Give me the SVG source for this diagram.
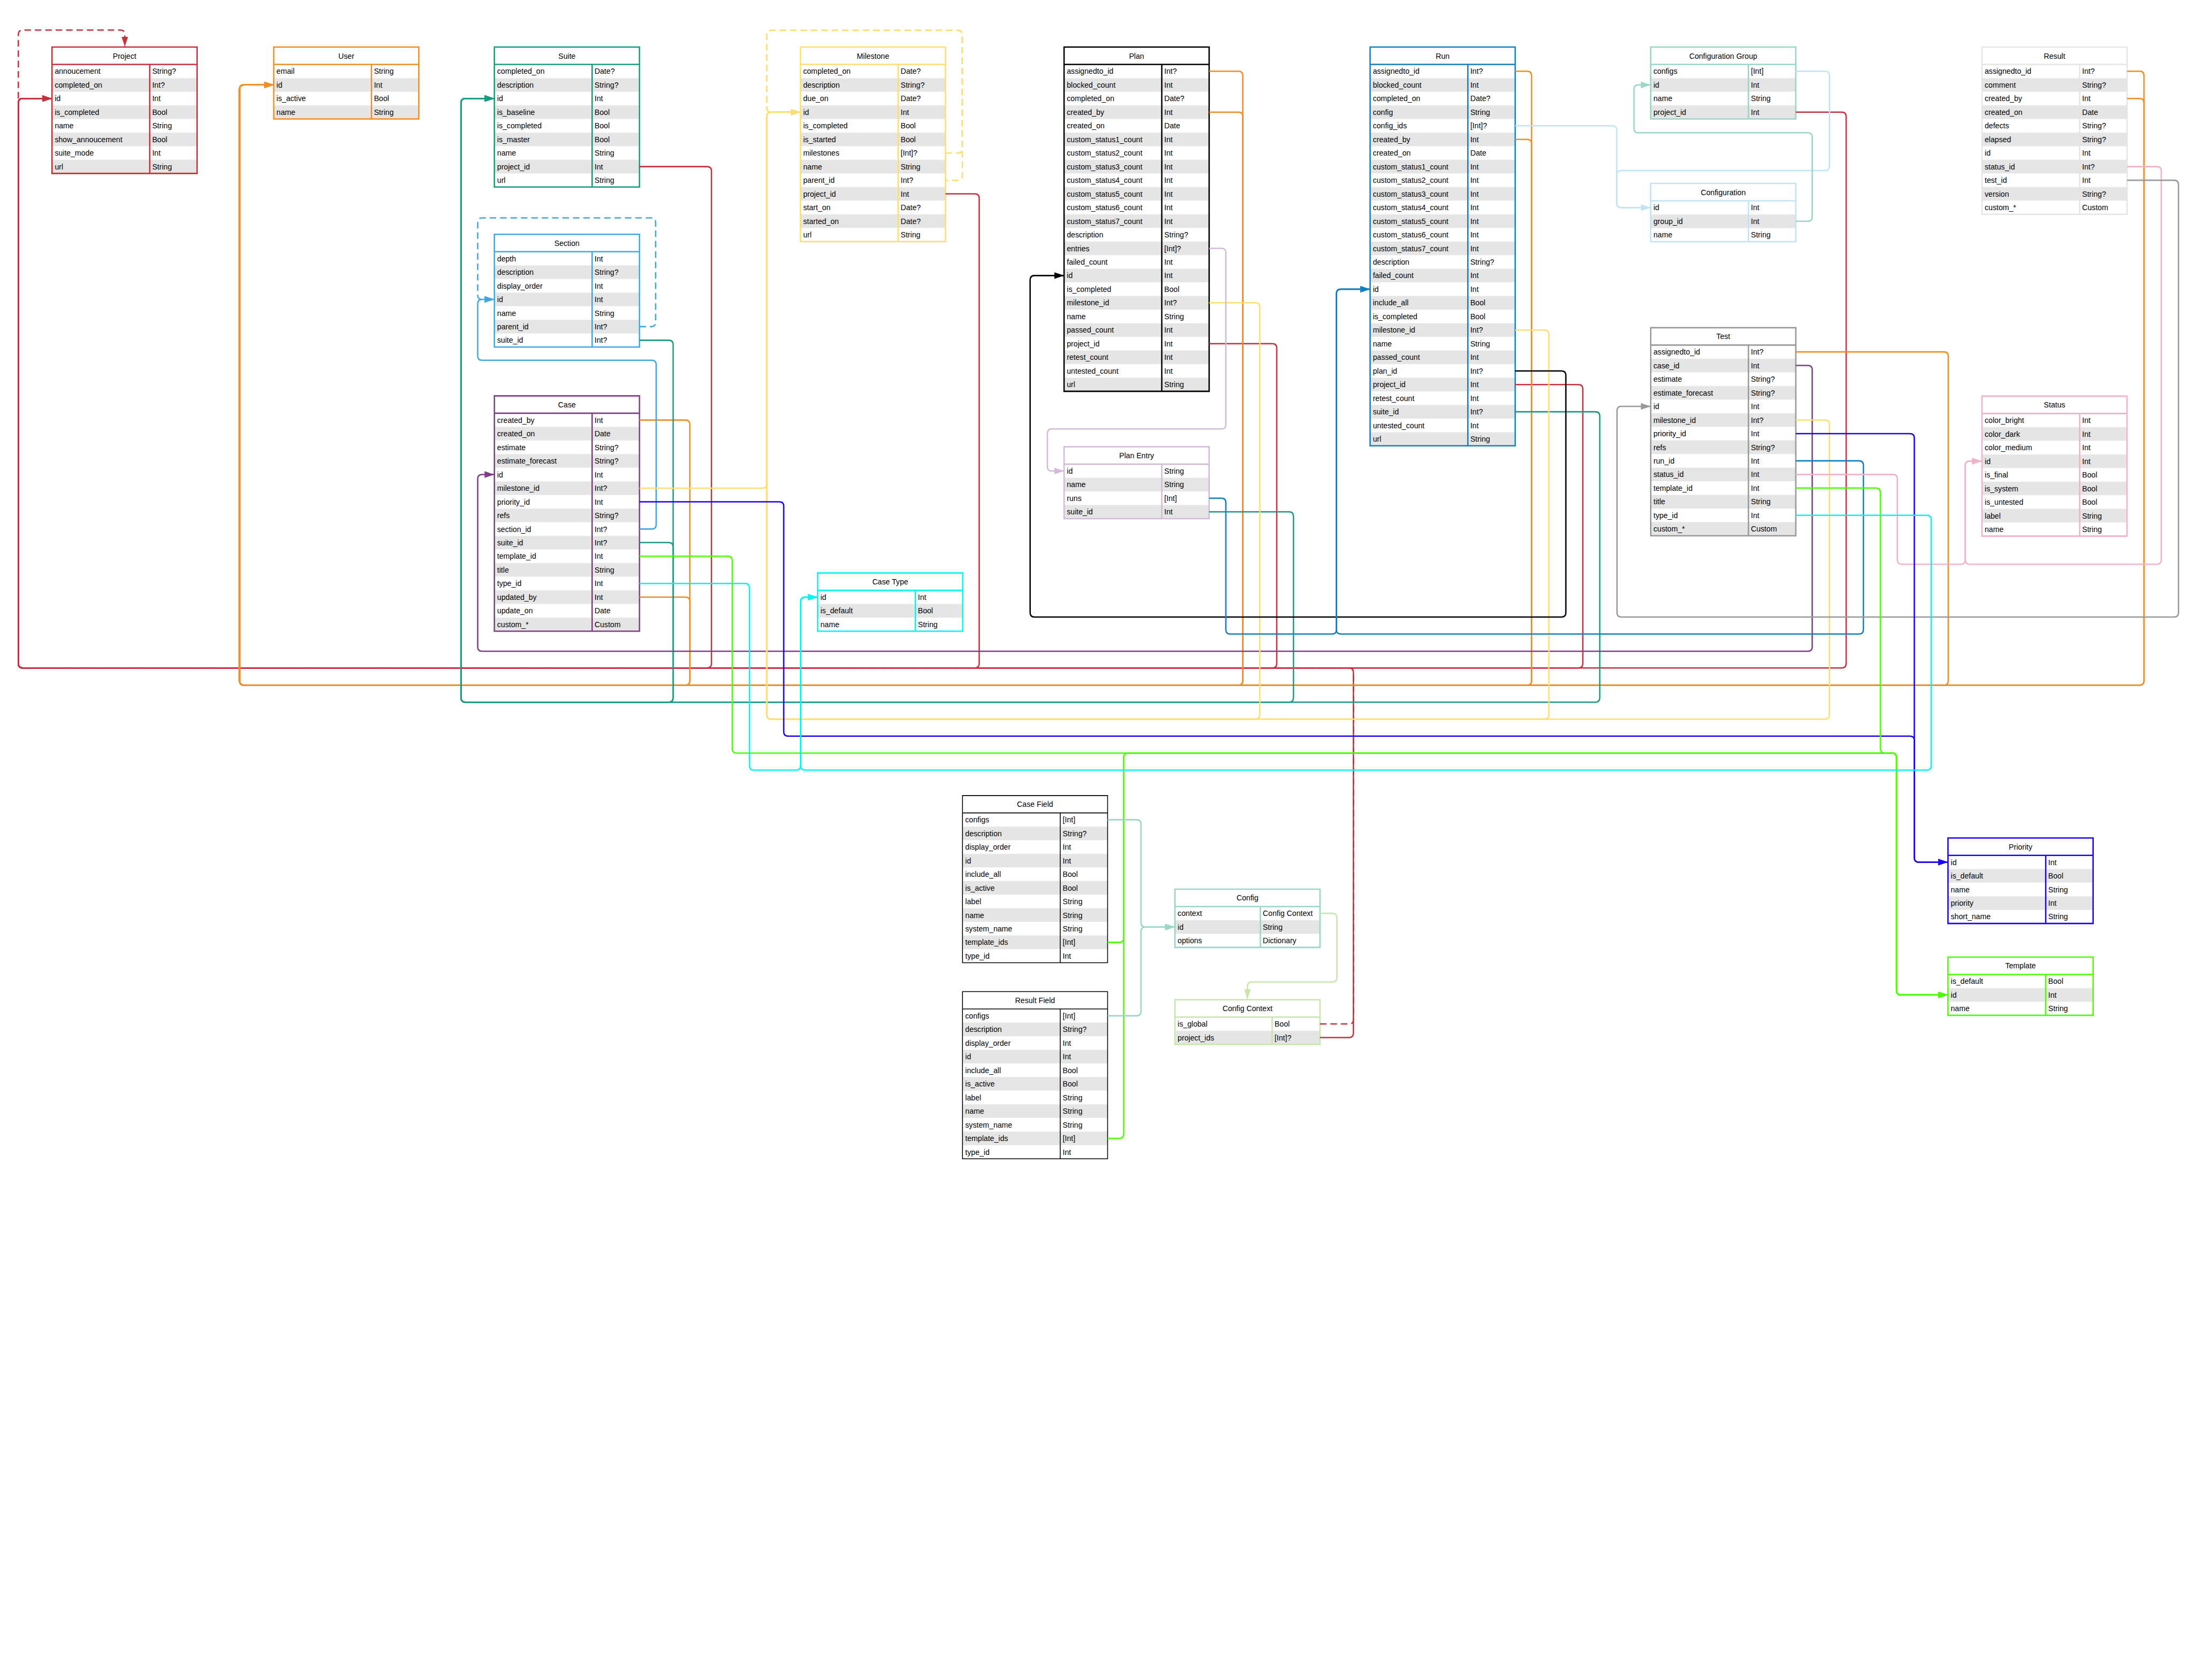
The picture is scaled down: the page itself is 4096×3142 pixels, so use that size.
<svg xmlns="http://www.w3.org/2000/svg" width="4096" height="3142" viewBox="0 0 4096 3142">
<style>
text{font-family:"Liberation Sans",Arial,Helvetica,sans-serif;font-size:27.6px;fill:#000}
.h{text-anchor:middle}
.tb{fill:#fff}
.rw{fill:url(#rows)}
.ln{fill:none;stroke-width:5}
.thin{stroke-width:3}
.c{fill:none;stroke-width:5;stroke-linejoin:round}
.d{stroke-dasharray:24 14}
.red{stroke:#c9303e;marker-end:url(#m-red)}
.org{stroke:#f08d24;marker-end:url(#m-org)}
.teal{stroke:#1a9a80;marker-end:url(#m-teal)}
.sec{stroke:#41a8df;marker-end:url(#m-sec)}
.pur{stroke:#7f3f87;marker-end:url(#m-pur)}
.yel{stroke:#fedd72;marker-end:url(#m-yel)}
.blk{stroke:#000;marker-end:url(#m-blk)}
.lil{stroke:#d1bbd6;marker-end:url(#m-lil)}
.run{stroke:#1380c3;marker-end:url(#m-run)}
.cfg{stroke:#c0e4f5;marker-end:url(#m-cfg)}
.cgt{stroke:#99d5c9;marker-end:url(#m-cgt)}
.pink{stroke:#f2b2c8;marker-end:url(#m-pink)}
.gray{stroke:#999;marker-end:url(#m-gray)}
.prio{stroke:#1a00ff;marker-end:url(#m-prio)}
.grn{stroke:#4cff00;marker-end:url(#m-grn)}
.cyan{stroke:#00f6f6;marker-end:url(#m-cyan)}
.lgrn{stroke:#c5e7ab;marker-end:url(#m-lgrn)}
</style>
<defs>
<pattern id="rows" patternUnits="userSpaceOnUse" x="0" y="63.5" width="600" height="99.5"><rect x="0" y="49.75" width="600" height="49.75" fill="#e5e5e5"/></pattern>
<marker id="m-red" markerUnits="userSpaceOnUse" markerWidth="36" markerHeight="24" viewBox="0 0 36 24" refX="36" refY="12" orient="auto"><path d="M0,0L36,12L0,24Z" fill="#c9303e"/></marker>
<marker id="m-org" markerUnits="userSpaceOnUse" markerWidth="36" markerHeight="24" viewBox="0 0 36 24" refX="36" refY="12" orient="auto"><path d="M0,0L36,12L0,24Z" fill="#f08d24"/></marker>
<marker id="m-teal" markerUnits="userSpaceOnUse" markerWidth="36" markerHeight="24" viewBox="0 0 36 24" refX="36" refY="12" orient="auto"><path d="M0,0L36,12L0,24Z" fill="#1a9a80"/></marker>
<marker id="m-sec" markerUnits="userSpaceOnUse" markerWidth="36" markerHeight="24" viewBox="0 0 36 24" refX="36" refY="12" orient="auto"><path d="M0,0L36,12L0,24Z" fill="#41a8df"/></marker>
<marker id="m-pur" markerUnits="userSpaceOnUse" markerWidth="36" markerHeight="24" viewBox="0 0 36 24" refX="36" refY="12" orient="auto"><path d="M0,0L36,12L0,24Z" fill="#7f3f87"/></marker>
<marker id="m-yel" markerUnits="userSpaceOnUse" markerWidth="36" markerHeight="24" viewBox="0 0 36 24" refX="36" refY="12" orient="auto"><path d="M0,0L36,12L0,24Z" fill="#fedd72"/></marker>
<marker id="m-blk" markerUnits="userSpaceOnUse" markerWidth="36" markerHeight="24" viewBox="0 0 36 24" refX="36" refY="12" orient="auto"><path d="M0,0L36,12L0,24Z" fill="#000"/></marker>
<marker id="m-lil" markerUnits="userSpaceOnUse" markerWidth="36" markerHeight="24" viewBox="0 0 36 24" refX="36" refY="12" orient="auto"><path d="M0,0L36,12L0,24Z" fill="#d1bbd6"/></marker>
<marker id="m-run" markerUnits="userSpaceOnUse" markerWidth="36" markerHeight="24" viewBox="0 0 36 24" refX="36" refY="12" orient="auto"><path d="M0,0L36,12L0,24Z" fill="#1380c3"/></marker>
<marker id="m-cfg" markerUnits="userSpaceOnUse" markerWidth="36" markerHeight="24" viewBox="0 0 36 24" refX="36" refY="12" orient="auto"><path d="M0,0L36,12L0,24Z" fill="#c0e4f5"/></marker>
<marker id="m-cgt" markerUnits="userSpaceOnUse" markerWidth="36" markerHeight="24" viewBox="0 0 36 24" refX="36" refY="12" orient="auto"><path d="M0,0L36,12L0,24Z" fill="#99d5c9"/></marker>
<marker id="m-pink" markerUnits="userSpaceOnUse" markerWidth="36" markerHeight="24" viewBox="0 0 36 24" refX="36" refY="12" orient="auto"><path d="M0,0L36,12L0,24Z" fill="#f2b2c8"/></marker>
<marker id="m-gray" markerUnits="userSpaceOnUse" markerWidth="36" markerHeight="24" viewBox="0 0 36 24" refX="36" refY="12" orient="auto"><path d="M0,0L36,12L0,24Z" fill="#999"/></marker>
<marker id="m-prio" markerUnits="userSpaceOnUse" markerWidth="36" markerHeight="24" viewBox="0 0 36 24" refX="36" refY="12" orient="auto"><path d="M0,0L36,12L0,24Z" fill="#1a00ff"/></marker>
<marker id="m-grn" markerUnits="userSpaceOnUse" markerWidth="36" markerHeight="24" viewBox="0 0 36 24" refX="36" refY="12" orient="auto"><path d="M0,0L36,12L0,24Z" fill="#4cff00"/></marker>
<marker id="m-cyan" markerUnits="userSpaceOnUse" markerWidth="36" markerHeight="24" viewBox="0 0 36 24" refX="36" refY="12" orient="auto"><path d="M0,0L36,12L0,24Z" fill="#00f6f6"/></marker>
<marker id="m-lgrn" markerUnits="userSpaceOnUse" markerWidth="36" markerHeight="24" viewBox="0 0 36 24" refX="36" refY="12" orient="auto"><path d="M0,0L36,12L0,24Z" fill="#c5e7ab"/></marker>
</defs>
<rect width="4096" height="3142" fill="#fff"/>
<g transform="scale(0.512)">
<g id="nodes">

<g id="n-project" transform="translate(190,172)">
<rect class="tb" width="530" height="461.5"/><rect class="rw" y="63.5" width="530" height="398"/>
<path class="ln" stroke="#c9303e" d="M0,0H530V461.5H0ZM0,63.5H530M357,63.5V461.5"/>
<text class="h" x="265" y="42">Project</text>
<text x="10" y="98.4">annoucement</text><text x="366" y="98.4">String?</text>
<text x="10" y="148.1">completed_on</text><text x="366" y="148.1">Int?</text>
<text x="10" y="197.9">id</text><text x="366" y="197.9">Int</text>
<text x="10" y="247.6">is_completed</text><text x="366" y="247.6">Bool</text>
<text x="10" y="297.4">name</text><text x="366" y="297.4">String</text>
<text x="10" y="347.1">show_annoucement</text><text x="366" y="347.1">Bool</text>
<text x="10" y="396.9">suite_mode</text><text x="366" y="396.9">Int</text>
<text x="10" y="446.6">url</text><text x="366" y="446.6">String</text>
</g>

<g id="n-user" transform="translate(1000,172)">
<rect class="tb" width="530" height="262.5"/><rect class="rw" y="63.5" width="530" height="199"/>
<path class="ln" stroke="#f08d24" d="M0,0H530V262.5H0ZM0,63.5H530M357,63.5V262.5"/>
<text class="h" x="265" y="42">User</text>
<text x="10" y="98.4">email</text><text x="366" y="98.4">String</text>
<text x="10" y="148.1">id</text><text x="366" y="148.1">Int</text>
<text x="10" y="197.9">is_active</text><text x="366" y="197.9">Bool</text>
<text x="10" y="247.6">name</text><text x="366" y="247.6">String</text>
</g>

<g id="n-suite" transform="translate(1806,172)">
<rect class="tb" width="530" height="511.25"/><rect class="rw" y="63.5" width="530" height="447.75"/>
<path class="ln" stroke="#1a9a80" d="M0,0H530V511.25H0ZM0,63.5H530M357,63.5V511.25"/>
<text class="h" x="265" y="42">Suite</text>
<text x="10" y="98.4">completed_on</text><text x="366" y="98.4">Date?</text>
<text x="10" y="148.1">description</text><text x="366" y="148.1">String?</text>
<text x="10" y="197.9">id</text><text x="366" y="197.9">Int</text>
<text x="10" y="247.6">is_baseline</text><text x="366" y="247.6">Bool</text>
<text x="10" y="297.4">is_completed</text><text x="366" y="297.4">Bool</text>
<text x="10" y="347.1">is_master</text><text x="366" y="347.1">Bool</text>
<text x="10" y="396.9">name</text><text x="366" y="396.9">String</text>
<text x="10" y="446.6">project_id</text><text x="366" y="446.6">Int</text>
<text x="10" y="496.4">url</text><text x="366" y="496.4">String</text>
</g>

<g id="n-section" transform="translate(1806,856)">
<rect class="tb" width="530" height="411.75"/><rect class="rw" y="63.5" width="530" height="348.25"/>
<path class="ln" stroke="#41a8df" d="M0,0H530V411.75H0ZM0,63.5H530M357,63.5V411.75"/>
<text class="h" x="265" y="42">Section</text>
<text x="10" y="98.4">depth</text><text x="366" y="98.4">Int</text>
<text x="10" y="148.1">description</text><text x="366" y="148.1">String?</text>
<text x="10" y="197.9">display_order</text><text x="366" y="197.9">Int</text>
<text x="10" y="247.6">id</text><text x="366" y="247.6">Int</text>
<text x="10" y="297.4">name</text><text x="366" y="297.4">String</text>
<text x="10" y="347.1">parent_id</text><text x="366" y="347.1">Int?</text>
<text x="10" y="396.9">suite_id</text><text x="366" y="396.9">Int?</text>
</g>

<g id="n-case" transform="translate(1806,1446)">
<rect class="tb" width="530" height="859.5"/><rect class="rw" y="63.5" width="530" height="796"/>
<path class="ln" stroke="#7f3f87" d="M0,0H530V859.5H0ZM0,63.5H530M357,63.5V859.5"/>
<text class="h" x="265" y="42">Case</text>
<text x="10" y="98.4">created_by</text><text x="366" y="98.4">Int</text>
<text x="10" y="148.1">created_on</text><text x="366" y="148.1">Date</text>
<text x="10" y="197.9">estimate</text><text x="366" y="197.9">String?</text>
<text x="10" y="247.6">estimate_forecast</text><text x="366" y="247.6">String?</text>
<text x="10" y="297.4">id</text><text x="366" y="297.4">Int</text>
<text x="10" y="347.1">milestone_id</text><text x="366" y="347.1">Int?</text>
<text x="10" y="396.9">priority_id</text><text x="366" y="396.9">Int</text>
<text x="10" y="446.6">refs</text><text x="366" y="446.6">String?</text>
<text x="10" y="496.4">section_id</text><text x="366" y="496.4">Int?</text>
<text x="10" y="546.1">suite_id</text><text x="366" y="546.1">Int?</text>
<text x="10" y="595.9">template_id</text><text x="366" y="595.9">Int</text>
<text x="10" y="645.6">title</text><text x="366" y="645.6">String</text>
<text x="10" y="695.4">type_id</text><text x="366" y="695.4">Int</text>
<text x="10" y="745.1">updated_by</text><text x="366" y="745.1">Int</text>
<text x="10" y="794.9">update_on</text><text x="366" y="794.9">Date</text>
<text x="10" y="844.6">custom_*</text><text x="366" y="844.6">Custom</text>
</g>

<g id="n-milestone" transform="translate(2924,172)">
<rect class="tb" width="530" height="710.25"/><rect class="rw" y="63.5" width="530" height="646.75"/>
<path class="ln" stroke="#fedd72" d="M0,0H530V710.25H0ZM0,63.5H530M357,63.5V710.25"/>
<text class="h" x="265" y="42">Milestone</text>
<text x="10" y="98.4">completed_on</text><text x="366" y="98.4">Date?</text>
<text x="10" y="148.1">description</text><text x="366" y="148.1">String?</text>
<text x="10" y="197.9">due_on</text><text x="366" y="197.9">Date?</text>
<text x="10" y="247.6">id</text><text x="366" y="247.6">Int</text>
<text x="10" y="297.4">is_completed</text><text x="366" y="297.4">Bool</text>
<text x="10" y="347.1">is_started</text><text x="366" y="347.1">Bool</text>
<text x="10" y="396.9">milestones</text><text x="366" y="396.9">[Int]?</text>
<text x="10" y="446.6">name</text><text x="366" y="446.6">String</text>
<text x="10" y="496.4">parent_id</text><text x="366" y="496.4">Int?</text>
<text x="10" y="546.1">project_id</text><text x="366" y="546.1">Int</text>
<text x="10" y="595.9">start_on</text><text x="366" y="595.9">Date?</text>
<text x="10" y="645.6">started_on</text><text x="366" y="645.6">Date?</text>
<text x="10" y="695.4">url</text><text x="366" y="695.4">String</text>
</g>

<g id="n-casetype" transform="translate(2987,2093)">
<rect class="tb" width="530" height="212.75"/><rect class="rw" y="63.5" width="530" height="149.25"/>
<path class="ln" stroke="#00f6f6" d="M0,0H530V212.75H0ZM0,63.5H530M357,63.5V212.75"/>
<text class="h" x="265" y="42">Case Type</text>
<text x="10" y="98.4">id</text><text x="366" y="98.4">Int</text>
<text x="10" y="148.1">is_default</text><text x="366" y="148.1">Bool</text>
<text x="10" y="197.9">name</text><text x="366" y="197.9">String</text>
</g>

<g id="n-plan" transform="translate(3887,172)">
<rect class="tb" width="530" height="1257.5"/><rect class="rw" y="63.5" width="530" height="1194"/>
<path class="ln" stroke="#000" d="M0,0H530V1257.5H0ZM0,63.5H530M357,63.5V1257.5"/>
<text class="h" x="265" y="42">Plan</text>
<text x="10" y="98.4">assignedto_id</text><text x="366" y="98.4">Int?</text>
<text x="10" y="148.1">blocked_count</text><text x="366" y="148.1">Int</text>
<text x="10" y="197.9">completed_on</text><text x="366" y="197.9">Date?</text>
<text x="10" y="247.6">created_by</text><text x="366" y="247.6">Int</text>
<text x="10" y="297.4">created_on</text><text x="366" y="297.4">Date</text>
<text x="10" y="347.1">custom_status1_count</text><text x="366" y="347.1">Int</text>
<text x="10" y="396.9">custom_status2_count</text><text x="366" y="396.9">Int</text>
<text x="10" y="446.6">custom_status3_count</text><text x="366" y="446.6">Int</text>
<text x="10" y="496.4">custom_status4_count</text><text x="366" y="496.4">Int</text>
<text x="10" y="546.1">custom_status5_count</text><text x="366" y="546.1">Int</text>
<text x="10" y="595.9">custom_status6_count</text><text x="366" y="595.9">Int</text>
<text x="10" y="645.6">custom_status7_count</text><text x="366" y="645.6">Int</text>
<text x="10" y="695.4">description</text><text x="366" y="695.4">String?</text>
<text x="10" y="745.1">entries</text><text x="366" y="745.1">[Int]?</text>
<text x="10" y="794.9">failed_count</text><text x="366" y="794.9">Int</text>
<text x="10" y="844.6">id</text><text x="366" y="844.6">Int</text>
<text x="10" y="894.4">is_completed</text><text x="366" y="894.4">Bool</text>
<text x="10" y="944.1">milestone_id</text><text x="366" y="944.1">Int?</text>
<text x="10" y="993.9">name</text><text x="366" y="993.9">String</text>
<text x="10" y="1043.6">passed_count</text><text x="366" y="1043.6">Int</text>
<text x="10" y="1093.4">project_id</text><text x="366" y="1093.4">Int</text>
<text x="10" y="1143.1">retest_count</text><text x="366" y="1143.1">Int</text>
<text x="10" y="1192.9">untested_count</text><text x="366" y="1192.9">Int</text>
<text x="10" y="1242.6">url</text><text x="366" y="1242.6">String</text>
</g>

<g id="n-planentry" transform="translate(3887,1632)">
<rect class="tb" width="530" height="262.5"/><rect class="rw" y="63.5" width="530" height="199"/>
<path class="ln" stroke="#d1bbd6" d="M0,0H530V262.5H0ZM0,63.5H530M357,63.5V262.5"/>
<text class="h" x="265" y="42">Plan Entry</text>
<text x="10" y="98.4">id</text><text x="366" y="98.4">String</text>
<text x="10" y="148.1">name</text><text x="366" y="148.1">String</text>
<text x="10" y="197.9">runs</text><text x="366" y="197.9">[Int]</text>
<text x="10" y="247.6">suite_id</text><text x="366" y="247.6">Int</text>
</g>

<g id="n-run" transform="translate(5005,172)">
<rect class="tb" width="530" height="1456.5"/><rect class="rw" y="63.5" width="530" height="1393"/>
<path class="ln" stroke="#1380c3" d="M0,0H530V1456.5H0ZM0,63.5H530M357,63.5V1456.5"/>
<text class="h" x="265" y="42">Run</text>
<text x="10" y="98.4">assignedto_id</text><text x="366" y="98.4">Int?</text>
<text x="10" y="148.1">blocked_count</text><text x="366" y="148.1">Int</text>
<text x="10" y="197.9">completed_on</text><text x="366" y="197.9">Date?</text>
<text x="10" y="247.6">config</text><text x="366" y="247.6">String</text>
<text x="10" y="297.4">config_ids</text><text x="366" y="297.4">[Int]?</text>
<text x="10" y="347.1">created_by</text><text x="366" y="347.1">Int</text>
<text x="10" y="396.9">created_on</text><text x="366" y="396.9">Date</text>
<text x="10" y="446.6">custom_status1_count</text><text x="366" y="446.6">Int</text>
<text x="10" y="496.4">custom_status2_count</text><text x="366" y="496.4">Int</text>
<text x="10" y="546.1">custom_status3_count</text><text x="366" y="546.1">Int</text>
<text x="10" y="595.9">custom_status4_count</text><text x="366" y="595.9">Int</text>
<text x="10" y="645.6">custom_status5_count</text><text x="366" y="645.6">Int</text>
<text x="10" y="695.4">custom_status6_count</text><text x="366" y="695.4">Int</text>
<text x="10" y="745.1">custom_status7_count</text><text x="366" y="745.1">Int</text>
<text x="10" y="794.9">description</text><text x="366" y="794.9">String?</text>
<text x="10" y="844.6">failed_count</text><text x="366" y="844.6">Int</text>
<text x="10" y="894.4">id</text><text x="366" y="894.4">Int</text>
<text x="10" y="944.1">include_all</text><text x="366" y="944.1">Bool</text>
<text x="10" y="993.9">is_completed</text><text x="366" y="993.9">Bool</text>
<text x="10" y="1043.6">milestone_id</text><text x="366" y="1043.6">Int?</text>
<text x="10" y="1093.4">name</text><text x="366" y="1093.4">String</text>
<text x="10" y="1143.1">passed_count</text><text x="366" y="1143.1">Int</text>
<text x="10" y="1192.9">plan_id</text><text x="366" y="1192.9">Int?</text>
<text x="10" y="1242.6">project_id</text><text x="366" y="1242.6">Int</text>
<text x="10" y="1292.4">retest_count</text><text x="366" y="1292.4">Int</text>
<text x="10" y="1342.1">suite_id</text><text x="366" y="1342.1">Int?</text>
<text x="10" y="1391.9">untested_count</text><text x="366" y="1391.9">Int</text>
<text x="10" y="1441.6">url</text><text x="366" y="1441.6">String</text>
</g>

<g id="n-configgroup" transform="translate(6030,172)">
<rect class="tb" width="530" height="262.5"/><rect class="rw" y="63.5" width="530" height="199"/>
<path class="ln" stroke="#99d5c9" d="M0,0H530V262.5H0ZM0,63.5H530M357,63.5V262.5"/>
<text class="h" x="265" y="42">Configuration Group</text>
<text x="10" y="98.4">configs</text><text x="366" y="98.4">[Int]</text>
<text x="10" y="148.1">id</text><text x="366" y="148.1">Int</text>
<text x="10" y="197.9">name</text><text x="366" y="197.9">String</text>
<text x="10" y="247.6">project_id</text><text x="366" y="247.6">Int</text>
</g>

<g id="n-configuration" transform="translate(6030,670)">
<rect class="tb" width="530" height="212.75"/><rect class="rw" y="63.5" width="530" height="149.25"/>
<path class="ln" stroke="#c0e4f5" d="M0,0H530V212.75H0ZM0,63.5H530M357,63.5V212.75"/>
<text class="h" x="265" y="42">Configuration</text>
<text x="10" y="98.4">id</text><text x="366" y="98.4">Int</text>
<text x="10" y="148.1">group_id</text><text x="366" y="148.1">Int</text>
<text x="10" y="197.9">name</text><text x="366" y="197.9">String</text>
</g>

<g id="n-test" transform="translate(6030,1197)">
<rect class="tb" width="530" height="760"/><rect class="rw" y="63.5" width="530" height="696.5"/>
<path class="ln" stroke="#999" d="M0,0H530V760H0ZM0,63.5H530M357,63.5V760"/>
<text class="h" x="265" y="42">Test</text>
<text x="10" y="98.4">assignedto_id</text><text x="366" y="98.4">Int?</text>
<text x="10" y="148.1">case_id</text><text x="366" y="148.1">Int</text>
<text x="10" y="197.9">estimate</text><text x="366" y="197.9">String?</text>
<text x="10" y="247.6">estimate_forecast</text><text x="366" y="247.6">String?</text>
<text x="10" y="297.4">id</text><text x="366" y="297.4">Int</text>
<text x="10" y="347.1">milestone_id</text><text x="366" y="347.1">Int?</text>
<text x="10" y="396.9">priority_id</text><text x="366" y="396.9">Int</text>
<text x="10" y="446.6">refs</text><text x="366" y="446.6">String?</text>
<text x="10" y="496.4">run_id</text><text x="366" y="496.4">Int</text>
<text x="10" y="546.1">status_id</text><text x="366" y="546.1">Int</text>
<text x="10" y="595.9">template_id</text><text x="366" y="595.9">Int</text>
<text x="10" y="645.6">title</text><text x="366" y="645.6">String</text>
<text x="10" y="695.4">type_id</text><text x="366" y="695.4">Int</text>
<text x="10" y="745.1">custom_*</text><text x="366" y="745.1">Custom</text>
</g>

<g id="n-result" transform="translate(7240,172)">
<rect class="tb" width="530" height="610.75"/><rect class="rw" y="63.5" width="530" height="547.25"/>
<path class="ln" stroke="#e5e5e5" d="M0,0H530V610.75H0ZM0,63.5H530M357,63.5V610.75"/>
<text class="h" x="265" y="42">Result</text>
<text x="10" y="98.4">assignedto_id</text><text x="366" y="98.4">Int?</text>
<text x="10" y="148.1">comment</text><text x="366" y="148.1">String?</text>
<text x="10" y="197.9">created_by</text><text x="366" y="197.9">Int</text>
<text x="10" y="247.6">created_on</text><text x="366" y="247.6">Date</text>
<text x="10" y="297.4">defects</text><text x="366" y="297.4">String?</text>
<text x="10" y="347.1">elapsed</text><text x="366" y="347.1">String?</text>
<text x="10" y="396.9">id</text><text x="366" y="396.9">Int</text>
<text x="10" y="446.6">status_id</text><text x="366" y="446.6">Int?</text>
<text x="10" y="496.4">test_id</text><text x="366" y="496.4">Int</text>
<text x="10" y="546.1">version</text><text x="366" y="546.1">String?</text>
<text x="10" y="595.9">custom_*</text><text x="366" y="595.9">Custom</text>
</g>

<g id="n-status" transform="translate(7240,1447)">
<rect class="tb" width="530" height="511.25"/><rect class="rw" y="63.5" width="530" height="447.75"/>
<path class="ln" stroke="#f2b2c8" d="M0,0H530V511.25H0ZM0,63.5H530M357,63.5V511.25"/>
<text class="h" x="265" y="42">Status</text>
<text x="10" y="98.4">color_bright</text><text x="366" y="98.4">Int</text>
<text x="10" y="148.1">color_dark</text><text x="366" y="148.1">Int</text>
<text x="10" y="197.9">color_medium</text><text x="366" y="197.9">Int</text>
<text x="10" y="247.6">id</text><text x="366" y="247.6">Int</text>
<text x="10" y="297.4">is_final</text><text x="366" y="297.4">Bool</text>
<text x="10" y="347.1">is_system</text><text x="366" y="347.1">Bool</text>
<text x="10" y="396.9">is_untested</text><text x="366" y="396.9">Bool</text>
<text x="10" y="446.6">label</text><text x="366" y="446.6">String</text>
<text x="10" y="496.4">name</text><text x="366" y="496.4">String</text>
</g>

<g id="n-casefield" transform="translate(3516,2906)">
<rect class="tb" width="530" height="610.75"/><rect class="rw" y="63.5" width="530" height="547.25"/>
<path class="ln thin" stroke="#000" d="M0,0H530V610.75H0ZM0,63.5H530M357,63.5V610.75"/>
<text class="h" x="265" y="42">Case Field</text>
<text x="10" y="98.4">configs</text><text x="366" y="98.4">[Int]</text>
<text x="10" y="148.1">description</text><text x="366" y="148.1">String?</text>
<text x="10" y="197.9">display_order</text><text x="366" y="197.9">Int</text>
<text x="10" y="247.6">id</text><text x="366" y="247.6">Int</text>
<text x="10" y="297.4">include_all</text><text x="366" y="297.4">Bool</text>
<text x="10" y="347.1">is_active</text><text x="366" y="347.1">Bool</text>
<text x="10" y="396.9">label</text><text x="366" y="396.9">String</text>
<text x="10" y="446.6">name</text><text x="366" y="446.6">String</text>
<text x="10" y="496.4">system_name</text><text x="366" y="496.4">String</text>
<text x="10" y="546.1">template_ids</text><text x="366" y="546.1">[Int]</text>
<text x="10" y="595.9">type_id</text><text x="366" y="595.9">Int</text>
</g>

<g id="n-resultfield" transform="translate(3516,3622)">
<rect class="tb" width="530" height="610.75"/><rect class="rw" y="63.5" width="530" height="547.25"/>
<path class="ln thin" stroke="#000" d="M0,0H530V610.75H0ZM0,63.5H530M357,63.5V610.75"/>
<text class="h" x="265" y="42">Result Field</text>
<text x="10" y="98.4">configs</text><text x="366" y="98.4">[Int]</text>
<text x="10" y="148.1">description</text><text x="366" y="148.1">String?</text>
<text x="10" y="197.9">display_order</text><text x="366" y="197.9">Int</text>
<text x="10" y="247.6">id</text><text x="366" y="247.6">Int</text>
<text x="10" y="297.4">include_all</text><text x="366" y="297.4">Bool</text>
<text x="10" y="347.1">is_active</text><text x="366" y="347.1">Bool</text>
<text x="10" y="396.9">label</text><text x="366" y="396.9">String</text>
<text x="10" y="446.6">name</text><text x="366" y="446.6">String</text>
<text x="10" y="496.4">system_name</text><text x="366" y="496.4">String</text>
<text x="10" y="546.1">template_ids</text><text x="366" y="546.1">[Int]</text>
<text x="10" y="595.9">type_id</text><text x="366" y="595.9">Int</text>
</g>

<g id="n-config" transform="translate(4292,3248)">
<rect class="tb" width="530" height="212.75"/><rect class="rw" y="63.5" width="530" height="149.25"/>
<path class="ln" stroke="#99d5c9" d="M0,0H530V212.75H0ZM0,63.5H530M312,63.5V212.75"/>
<text class="h" x="265" y="42">Config</text>
<text x="10" y="98.4">context</text><text x="321" y="98.4">Config Context</text>
<text x="10" y="148.1">id</text><text x="321" y="148.1">String</text>
<text x="10" y="197.9">options</text><text x="321" y="197.9">Dictionary</text>
</g>

<g id="n-configcontext" transform="translate(4292,3652)">
<rect class="tb" width="530" height="163"/><rect class="rw" y="63.5" width="530" height="99.5"/>
<path class="ln" stroke="#c5e7ab" d="M0,0H530V163H0ZM0,63.5H530M355,63.5V163"/>
<text class="h" x="265" y="42">Config Context</text>
<text x="10" y="98.4">is_global</text><text x="364" y="98.4">Bool</text>
<text x="10" y="148.1">project_ids</text><text x="364" y="148.1">[Int]?</text>
</g>

<g id="n-priority" transform="translate(7116,3061)">
<rect class="tb" width="530" height="312.25"/><rect class="rw" y="63.5" width="530" height="248.75"/>
<path class="ln" stroke="#1a00ff" d="M0,0H530V312.25H0ZM0,63.5H530M357,63.5V312.25"/>
<text class="h" x="265" y="42">Priority</text>
<text x="10" y="98.4">id</text><text x="366" y="98.4">Int</text>
<text x="10" y="148.1">is_default</text><text x="366" y="148.1">Bool</text>
<text x="10" y="197.9">name</text><text x="366" y="197.9">String</text>
<text x="10" y="247.6">priority</text><text x="366" y="247.6">Int</text>
<text x="10" y="297.4">short_name</text><text x="366" y="297.4">String</text>
</g>

<g id="n-template" transform="translate(7116,3496)">
<rect class="tb" width="530" height="212.75"/><rect class="rw" y="63.5" width="530" height="149.25"/>
<path class="ln" stroke="#4cff00" d="M0,0H530V212.75H0ZM0,63.5H530M357,63.5V212.75"/>
<text class="h" x="265" y="42">Template</text>
<text x="10" y="98.4">is_default</text><text x="366" y="98.4">Bool</text>
<text x="10" y="148.1">id</text><text x="366" y="148.1">Int</text>
<text x="10" y="197.9">name</text><text x="366" y="197.9">String</text>
</g>
</g>

<g id="connectors">
<path class="c red d" d="M67,359.9V126Q67,110 83,110H440Q456,110 456,126V170"/>
<path class="c red" d="M2336,608.6H2583Q2599,608.6 2599,624.6V2424Q2599,2440 2583,2440H83Q67,2440 67,2424V375.9Q67,359.9 83,359.9H190"/>
<path class="c red" d="M3454,708.1H3561Q3577,708.1 3577,724.1V2424Q3577,2440 3561,2440H83Q67,2440 67,2424V375.9Q67,359.9 83,359.9H190"/>
<path class="c red" d="M4417,1255.4H4648Q4664,1255.4 4664,1271.4V2424Q4664,2440 4648,2440H83Q67,2440 67,2424V375.9Q67,359.9 83,359.9H190"/>
<path class="c red" d="M5535,1404.6H5766Q5782,1404.6 5782,1420.6V2424Q5782,2440 5766,2440H83Q67,2440 67,2424V375.9Q67,359.9 83,359.9H190"/>
<path class="c red" d="M6560,409.6H6728Q6744,409.6 6744,425.6V2424Q6744,2440 6728,2440H83Q67,2440 67,2424V375.9Q67,359.9 83,359.9H190"/>
<path class="c red" d="M4822,3790.1H4928Q4944,3790.1 4944,3774.1V2456Q4944,2440 4928,2440H83Q67,2440 67,2424V375.9Q67,359.9 83,359.9H190"/>
<path class="c red d" d="M4822,3740.4H4928Q4944,3740.4 4944,3724.4V2456Q4944,2440 4928,2440H83Q67,2440 67,2424V375.9Q67,359.9 83,359.9H190"/>

<path class="c org" d="M2336,1534.4H2504Q2520,1534.4 2520,1550.4V2487Q2520,2503 2504,2503H891Q875,2503 875,2487V326.1Q875,310.1 891,310.1H1000"/>
<path class="c org" d="M2336,2181.1H2504Q2520,2181.1 2520,2197.1V2487Q2520,2503 2504,2503H891Q875,2503 875,2487V326.1Q875,310.1 891,310.1H1000"/>
<path class="c org" d="M4417,260.4H4524Q4540,260.4 4540,276.4V2487Q4540,2503 4524,2503H891Q875,2503 875,2487V326.1Q875,310.1 891,310.1H1000"/>
<path class="c org" d="M4417,409.6H4524Q4540,409.6 4540,425.6V2487Q4540,2503 4524,2503H891Q875,2503 875,2487V326.1Q875,310.1 891,310.1H1000"/>
<path class="c org" d="M5535,260.4H5579Q5595,260.4 5595,276.4V2487Q5595,2503 5579,2503H891Q875,2503 875,2487V326.1Q875,310.1 891,310.1H1000"/>
<path class="c org" d="M5535,509.1H5579Q5595,509.1 5595,525.1V2487Q5595,2503 5579,2503H891Q875,2503 875,2487V326.1Q875,310.1 891,310.1H1000"/>
<path class="c org" d="M6560,1285.4H7101Q7117,1285.4 7117,1301.4V2487Q7117,2503 7101,2503H891Q875,2503 875,2487V326.1Q875,310.1 891,310.1H1000"/>
<path class="c org" d="M7770,260.4H7816Q7832,260.4 7832,276.4V2487Q7832,2503 7816,2503H891Q875,2503 875,2487V326.1Q875,310.1 891,310.1H1000"/>
<path class="c org" d="M7770,359.9H7816Q7832,359.9 7832,375.9V2487Q7832,2503 7816,2503H891Q875,2503 875,2487V326.1Q875,310.1 891,310.1H1000"/>

<path class="c teal" d="M2336,1242.9H2443Q2459,1242.9 2459,1258.9V2549Q2459,2565 2443,2565H1700Q1684,2565 1684,2549V375.9Q1684,359.9 1700,359.9H1806"/>
<path class="c teal" d="M2336,1982.1H2443Q2459,1982.1 2459,1998.1V2549Q2459,2565 2443,2565H1700Q1684,2565 1684,2549V375.9Q1684,359.9 1700,359.9H1806"/>
<path class="c teal" d="M4417,1869.6H4709Q4725,1869.6 4725,1885.6V2549Q4725,2565 4709,2565H1700Q1684,2565 1684,2549V375.9Q1684,359.9 1700,359.9H1806"/>
<path class="c teal" d="M5535,1504.1H5828Q5844,1504.1 5844,1520.1V2549Q5844,2565 5828,2565H1700Q1684,2565 1684,2549V375.9Q1684,359.9 1700,359.9H1806"/>

<path class="c sec d" d="M2336,1193.1H2379Q2395,1193.1 2395,1177.1V812Q2395,796 2379,796H1761Q1745,796 1745,812V1077.6Q1745,1093.6 1761,1093.6H1806"/>
<path class="c sec" d="M2336,1932.4H2381Q2397,1932.4 2397,1916.4V1332Q2397,1316 2381,1316H1761Q1745,1316 1745,1300V1109.6Q1745,1093.6 1761,1093.6H1806"/>

<path class="c pur" d="M6560,1335.1H6604Q6620,1335.1 6620,1351.1V2363Q6620,2379 6604,2379H1761Q1745,2379 1745,2363V1749.4Q1745,1733.4 1761,1733.4H1806"/>

<path class="c yel" d="M2336,1783.1H2785Q2801,1783.1 2801,1767.1V425.6Q2801,409.6 2817,409.6H2924"/>
<path class="c yel d" d="M3454,558.9H3499Q3515,558.9 3515,542.9V126.8Q3515,110.8 3499,110.8H2817Q2801,110.8 2801,126.8V393.6Q2801,409.6 2817,409.6H2924"/>
<path class="c yel d" style="stroke-dashoffset:14.5" d="M3454,658.4H3499Q3515,658.4 3515,642.4V126.8Q3515,110.8 3499,110.8H2817Q2801,110.8 2801,126.8V393.6Q2801,409.6 2817,409.6H2924"/>
<path class="c yel" d="M4417,1106.1H4586Q4602,1106.1 4602,1122.1V2611Q4602,2627 4586,2627H2817Q2801,2627 2801,2611V425.6Q2801,409.6 2817,409.6H2924"/>
<path class="c yel" d="M5535,1205.6H5642Q5658,1205.6 5658,1221.6V2611Q5658,2627 5642,2627H2817Q2801,2627 2801,2611V425.6Q2801,409.6 2817,409.6H2924"/>
<path class="c yel" d="M6560,1534.1H6667Q6683,1534.1 6683,1550.1V2611Q6683,2627 6667,2627H2817Q2801,2627 2801,2611V425.6Q2801,409.6 2817,409.6H2924"/>

<path class="c blk" d="M5535,1355H5704Q5720,1355 5720,1371V2238Q5720,2254 5704,2254H3779Q3763,2254 3763,2238V1022.6Q3763,1006.6 3779,1006.6H3887"/>

<path class="c lil" d="M4417,907.1H4462Q4478,907.1 4478,923.1V1551Q4478,1567 4462,1567H3842Q3826,1567 3826,1583V1704.4Q3826,1720.4 3842,1720.4H3887"/>

<path class="c run" d="M4417,1819.9H4462Q4478,1819.9 4478,1835.9V2300Q4478,2316 4494,2316H4866Q4882,2316 4882,2300V1072.4Q4882,1056.4 4898,1056.4H5005"/>
<path class="c run" d="M6560,1683.4H6791Q6807,1683.4 6807,1699.4V2300Q6807,2316 6791,2316H4898Q4882,2316 4882,2300V1072.4Q4882,1056.4 4898,1056.4H5005"/>

<path class="c cfg" d="M5535,459.4H5890Q5906,459.4 5906,475.4V742.4Q5906,758.4 5922,758.4H6030"/>
<path class="c cfg" d="M6560,260.4H6667Q6683,260.4 6683,276.4V607Q6683,623 6667,623H5922Q5906,623 5906,639V742.4Q5906,758.4 5922,758.4H6030"/>

<path class="c cgt" d="M6560,808.1H6604Q6620,808.1 6620,792.1V501Q6620,485 6604,485H5985Q5969,485 5969,469V326.1Q5969,310.1 5985,310.1H6030"/>

<path class="c pink" d="M7770,608.6H7879Q7895,608.6 7895,624.6V2045Q7895,2061 7879,2061H7195Q7179,2061 7179,2045V1700.6Q7179,1684.6 7195,1684.6H7240"/>
<path class="c pink" d="M6560,1733.1H6915Q6931,1733.1 6931,1749.1V2045Q6931,2061 6947,2061H7163Q7179,2061 7179,2045V1700.6Q7179,1684.6 7195,1684.6H7240"/>

<path class="c gray" d="M7770,658.4H7942Q7958,658.4 7958,674.4V2238Q7958,2254 7942,2254H5923Q5907,2254 5907,2238V1500.4Q5907,1484.4 5923,1484.4H6030"/>

<path class="c prio" d="M2336,1832.9H2847Q2863,1832.9 2863,1848.9V2673Q2863,2689 2879,2689H6977Q6993,2689 6993,2705V3133.4Q6993,3149.4 7009,3149.4H7116"/>
<path class="c prio" d="M6560,1583.9H6977Q6993,1583.9 6993,1599.9V3133.4Q6993,3149.4 7009,3149.4H7116"/>

<path class="c grn" d="M2336,2031.9H2659Q2675,2031.9 2675,2047.9V2735Q2675,2751 2691,2751H6912Q6928,2751 6928,2767V3618.1Q6928,3634.1 6944,3634.1H7116"/>
<path class="c grn" d="M6560,1782.9H6853Q6869,1782.9 6869,1798.9V2735Q6869,2751 6885,2751H6912Q6928,2751 6928,2767V3618.1Q6928,3634.1 6944,3634.1H7116"/>
<path class="c grn" d="M4046,3442.1H4089Q4105,3442.1 4105,3426.1V2767Q4105,2751 4121,2751H6912Q6928,2751 6928,2767V3618.1Q6928,3634.1 6944,3634.1H7116"/>
<path class="c grn" d="M4046,4158.1H4089Q4105,4158.1 4105,4142.1V2767Q4105,2751 4121,2751H6912Q6928,2751 6928,2767V3618.1Q6928,3634.1 6944,3634.1H7116"/>

<path class="c cyan" d="M2336,2131.4H2722Q2738,2131.4 2738,2147.4V2797Q2738,2813 2754,2813H2909Q2925,2813 2925,2797V2197.4Q2925,2181.4 2941,2181.4H2987"/>
<path class="c cyan" d="M6560,1882.4H7039Q7055,1882.4 7055,1898.4V2797Q7055,2813 7039,2813H2941Q2925,2813 2925,2797V2197.4Q2925,2181.4 2941,2181.4H2987"/>

<path class="c cgt" d="M4046,2994.4H4152Q4168,2994.4 4168,3010.4V3370.1Q4168,3386.1 4184,3386.1H4292"/>
<path class="c cgt" d="M4046,3710.4H4152Q4168,3710.4 4168,3694.4V3402.1Q4168,3386.1 4184,3386.1H4292"/>

<path class="c lgrn" d="M4822,3336.4H4868Q4884,3336.4 4884,3352.4V3571Q4884,3587 4868,3587H4573Q4557,3587 4557,3603V3650"/>
</g>
</g>
</svg>
